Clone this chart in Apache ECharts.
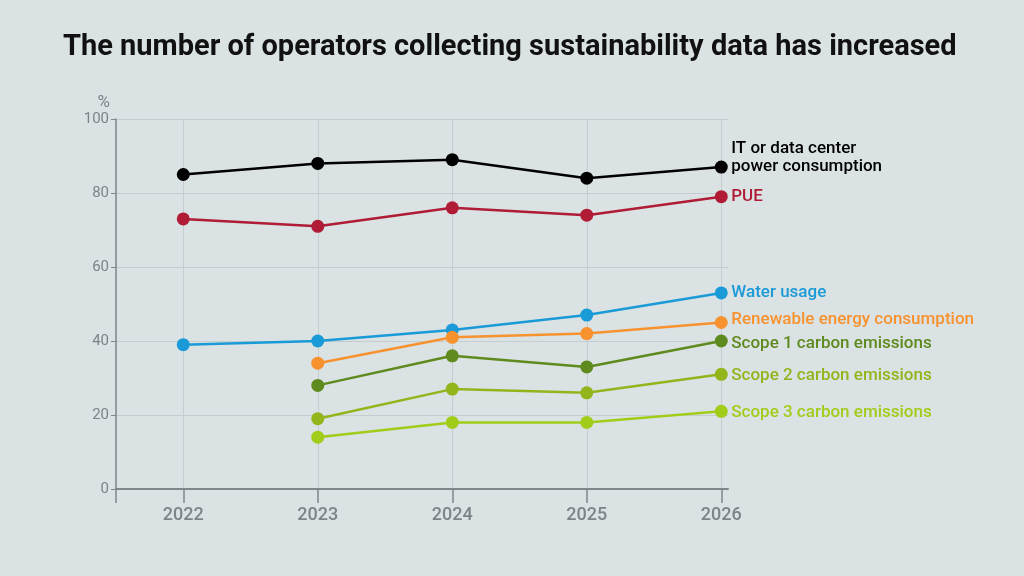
<!DOCTYPE html>
<html>
<head>
<meta charset="utf-8">
<script src="https://cdn.jsdelivr.net/npm/echarts@6/dist/echarts.min.js"></script>
<style>
html, body { margin: 0; padding: 0; background: #dae2e4; }
#main { width: 1024px; height: 576px; }
</style>
</head>
<body>
<div id="main"></div>
<script>
// years on the x axis
var years = [2022, 2023, 2024, 2025, 2026];
var yTicks = [0, 20, 40, 60, 80, 100];
// series values (%), null = not surveyed
var itPower = [85, 88, 89, 84, 87];
var pue = [73, 71, 76, 74, 79];
var water = [39, 40, 43, 47, 53];
var renewable = [null, 34, 41, 42, 45];
var scope1 = [null, 28, 36, 33, 40];
var scope2 = [null, 19, 27, 26, 31];
var scope3 = [null, 14, 18, 18, 21];

var seriesNames = [
	'IT or data center\npower consumption',
	'PUE',
	'Water usage',
	'Renewable energy consumption',
	'Scope 1 carbon emissions',
	'Scope 2 carbon emissions',
	'Scope 3 carbon emissions'
];
var seriesData = [itPower, pue, water, renewable, scope1, scope2, scope3];
var colors = ['#000000', '#b01c35', '#1a9ad6', '#f7922e', '#5e8a1e', '#93b51c', '#a2cc1a'];
// small nudges so end labels sit like in the original
var labelOffset = [[2, -9], [2, 0], [2, 0], [2, -3], [2, 3], [2, 1], [2, 1]];

function pairs(vals){
	return years.map(function(y, i){ return [y, vals[i]]; });
}

var series = seriesData.map(function(vals, i){
	return {
		name: seriesNames[i],
		type: 'line',
		data: pairs(vals),
		color: colors[i],
		symbol: 'circle',
		symbolSize: 13,
		lineStyle: { width: 2.5 },
		connectNulls: false,
		animation: false,
		endLabel: {
			show: true,
			formatter: '{a}',
			color: colors[i],
			fontFamily: 'Roboto',
			fontWeight: 500,
			fontSize: 17,
			lineHeight: 18,
			distance: 8,
			offset: labelOffset[i]
		}
	};
});

var chart = echarts.init(document.getElementById('main'));
chart.setOption({
	backgroundColor: '#dae2e4',
	title: {
		text: 'The number of operators collecting sustainability data has increased',
		left: 58,
		top: 28,
		textStyle: { fontFamily: 'Roboto', fontWeight: 'bold', fontSize: 29, color: '#111' }
	},
	grid: { left: 116, right: 296, top: 119, bottom: 87 },
	xAxis: {
		type: 'value',
		min: 2021.5,
		max: 2026.05,
		axisLine: { show: true, lineStyle: { color: '#80878b', width: 2 } },
		axisTick: {
			show: true,
			length: 14,
			lineStyle: { color: '#80878b', width: 1.5 },
			customValues: [2021.5].concat(years)
		},
		axisLabel: {
			customValues: years,
			color: '#7d8488',
			fontFamily: 'Roboto',
			fontWeight: 500,
			fontSize: 18,
			margin: 17,
			formatter: function(v){ return String(v); }
		},
		splitLine: { show: true, lineStyle: { color: '#c6cdd0', width: 1 } }
	},
	yAxis: {
		type: 'value',
		min: 0,
		max: 100,
		interval: 20,
		name: '%',
		nameLocation: 'end',
		nameGap: 6,
		nameTextStyle: { color: '#7d8488', fontFamily: 'Roboto', fontSize: 17, align: 'right', padding: [0, 6, -2, 0] },
		axisLine: { show: true, lineStyle: { color: '#80878b', width: 1.5 } },
		axisTick: { show: true, length: 5, lineStyle: { color: '#80878b' } },
		axisLabel: {
			color: '#7d8488',
			fontFamily: 'Roboto',
			fontSize: 15,
			margin: 7,
			customValues: yTicks
		},
		splitLine: { show: true, lineStyle: { color: '#c6cdd0', width: 1 } }
	},
	series: series
});
</script>
</body>
</html>
